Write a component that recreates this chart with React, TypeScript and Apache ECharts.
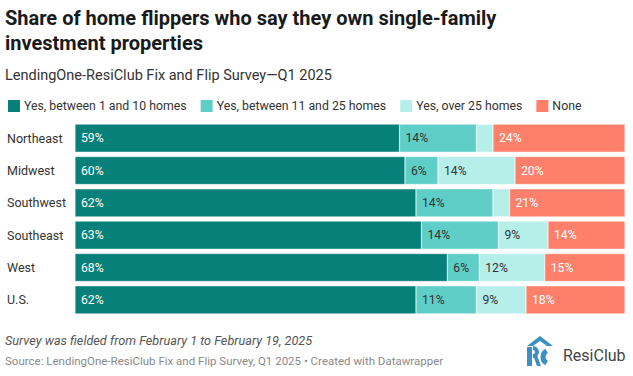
import React, { useEffect, useRef } from "react";
import * as echarts from "echarts";

const regions = ["Northeast", "Midwest", "Southwest", "Southeast", "West", "U.S."];
const seriesNames = [
  "Yes, between 1 and 10 homes",
  "Yes, between 11 and 25 homes",
  "Yes, over 25 homes",
  "None",
];
const small = [59, 60, 62, 63, 67.7, 62];
const medium = [14, 6, 14, 14, 5.8, 11];
const large = [3, 14, 3, 9, 11.9, 9];
const none = [24, 20, 21, 14, 14.6, 18];

const colors = ["#07807a", "#5ecec7", "#b6eeea", "#ff806a"];
const labelColors = ["#ffffff", "#333333", "#333333", "#ffffff"];

const FONT = "Roboto, 'Noto Sans', sans-serif";

export default function App() {
  const ref = useRef<HTMLDivElement>(null);
  useEffect(() => {
    if (!ref.current) return;
    const chart = echarts.init(ref.current, null, { renderer: "svg" });
    const data = [small, medium, large, none];
    chart.setOption({
      animation: false,
      backgroundColor: "#ffffff",
      textStyle: { fontFamily: FONT },
      title: {
        text: "Share of home flippers who say they own single-family\ninvestment properties",
        left: 5,
        top: 5,
        padding: 0,
        textStyle: {
          fontFamily: FONT,
          fontSize: 20,
          fontWeight: "bold",
          color: "#1a1a1a",
          lineHeight: 25,
        },
      },
      legend: {
        left: 6,
        top: 98,
        padding: 0,
        itemWidth: 14,
        itemHeight: 14,
        itemGap: 12,
        icon: "rect",
        selectedMode: false,
        textStyle: { fontFamily: FONT, fontSize: 12.3, color: "#333333", padding: [0, 0, 0, -2] },
        data: seriesNames,
      },
      grid: { left: 75, right: 8, top: 122, bottom: 376 - 316, containLabel: false },
      xAxis: {
        type: "value",
        min: 0,
        max: 100,
        show: false,
      },
      yAxis: {
        type: "category",
        data: regions,
        inverse: true,
        axisLine: { show: false },
        axisTick: { show: false },
        axisLabel: {
          align: "left",
          margin: 68,
          fontFamily: FONT,
          fontSize: 12.5,
          color: "#333333",
        },
      },
      series: seriesNames.map((name, i) => ({
        name,
        type: "bar",
        stack: "total",
        barWidth: 28,
        data: data[i],
        itemStyle: { color: colors[i], borderColor: "#ffffff", borderWidth: 0.4 },
        label: {
          show: true,
          position: "insideLeft",
          distance: 6,
          fontFamily: FONT,
          fontSize: 12.2,
          color: labelColors[i],
          formatter: (p: any) => (p.value >= 5 ? Math.round(p.value) + "%" : ""),
        },
        emphasis: { disabled: true },
      })),
      graphic: [
        {
          type: "text",
          left: 5,
          top: 68,
          style: {
            text: "LendingOne-ResiClub Fix and Flip Survey\u2014Q1 2025",
            fontFamily: FONT,
            fontSize: 14.5,
            fill: "#333333",
          },
        },
        {
          type: "text",
          left: 5,
          top: 334,
          style: {
            text: "Survey was fielded from February 1 to February 19, 2025",
            fontFamily: FONT,
            fontSize: 12.7,
            fontStyle: "italic",
            fill: "#555555",
          },
        },
        {
          type: "text",
          left: 5,
          top: 355,
          style: {
            text: "Source: LendingOne-ResiClub Fix and Flip Survey, Q1 2025 \u2022 Created with Datawrapper",
            fontFamily: FONT,
            fontSize: 11.5,
            fill: "#8a8a8a",
          },
        },
        {
          type: "group",
          children: [
            {
              type: "polygon",
              shape: { points: [[527, 346], [540, 336], [553, 346], [547, 346], [540, 341], [533, 346]] },
              style: { fill: "#3b8fc2" },
            },
            {
              type: "rect",
              shape: { x: 527, y: 347, width: 5, height: 19 },
              style: { fill: "#3b8fc2" },
            },
            {
              type: "arc",
              shape: { cx: 533, cy: 352, r: 4, startAngle: -Math.PI / 2, endAngle: Math.PI / 2 },
              style: { stroke: "#3b8fc2", lineWidth: 4, fill: "none" },
            },
            {
              type: "polygon",
              shape: { points: [[533, 355], [537, 355], [541, 366], [537, 366]] },
              style: { fill: "#3b8fc2" },
            },
            {
              type: "arc",
              shape: { cx: 550, cy: 357, r: 7, startAngle: Math.PI / 2 + 0.5, endAngle: (3 * Math.PI) / 2 - 0.5, clockwise: true },
              style: { stroke: "#3b8fc2", lineWidth: 5, fill: "none" },
            },
          ],
        },
        {
          type: "text",
          left: 563,
          top: 347,
          style: {
            text: "ResiClub",
            fontFamily: FONT,
            fontSize: 16,
            fill: "#444444",
          },
        },
      ],
    });
    return () => chart.dispose();
  }, []);
  return (
    <div
      ref={ref}
      style={{ position: "fixed", left: 0, top: 0, width: 633, height: 376 }}
    />
  );
}
